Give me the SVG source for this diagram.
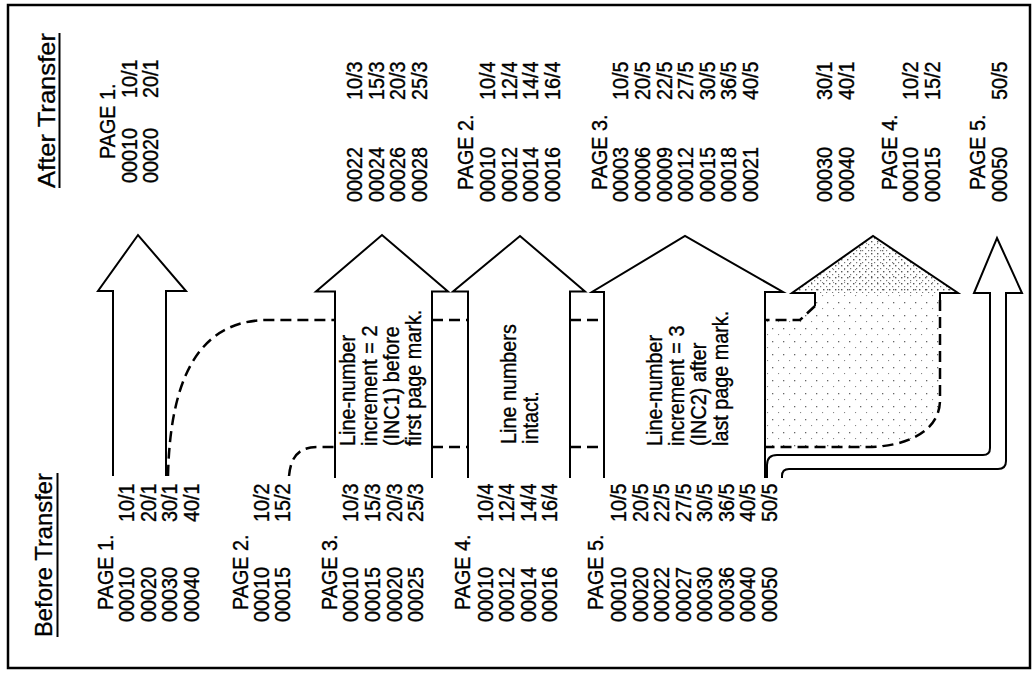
<svg xmlns="http://www.w3.org/2000/svg" width="1034" height="675" viewBox="0 0 1034 675">
<defs>
<style>
.t{font-family:"Liberation Sans",Arial,sans-serif;font-size:22px;fill:#000;stroke:#000;stroke-width:0.35}
.h{font-family:"Liberation Sans",Arial,sans-serif;font-size:24px;fill:#000;stroke:#000;stroke-width:0.3}
.ar{fill:#fff;stroke:#000;stroke-width:2;stroke-linejoin:miter}
.ln{fill:none;stroke:#000;stroke-width:2}
.ds{fill:none;stroke:#000;stroke-width:2.5;stroke-dasharray:11 6}
</style>
<pattern id="stipA" width="6" height="6" patternUnits="userSpaceOnUse">
<rect x="1" y="1" width="1.4" height="1.4" fill="#555"/>
<rect x="4" y="4" width="1.2" height="1.2" fill="#777"/>
</pattern>
<pattern id="stipB" width="11" height="13" patternUnits="userSpaceOnUse">
<rect x="2" y="3" width="1.3" height="1.3" fill="#666"/>
<rect x="8" y="9" width="1.1" height="1.1" fill="#888"/>
</pattern>
</defs>
<rect x="8" y="5" width="1022" height="663" fill="#fff" stroke="#000" stroke-width="2.5"/>

<g id="before-title">
<text class="h" transform="translate(52,637) rotate(-90)" textLength="164" lengthAdjust="spacingAndGlyphs">Before Transfer</text>
<line class="ln" x1="57.5" y1="473" x2="57.5" y2="637"/>
</g>
<g id="after-title">
<text class="h" transform="translate(55,188) rotate(-90)" textLength="155" lengthAdjust="spacingAndGlyphs">After Transfer</text>
<line class="ln" x1="59.5" y1="33" x2="59.5" y2="188"/>
</g>

<g id="before-page1">
<text class="t" transform="translate(113,610) rotate(-90) scale(0.9,1)">PAGE 1.</text>
<text class="t" transform="translate(134,622) rotate(-90) scale(0.9,1)">00010</text>
<text class="t" transform="translate(155.5,622) rotate(-90) scale(0.9,1)">00020</text>
<text class="t" transform="translate(177,622) rotate(-90) scale(0.9,1)">00030</text>
<text class="t" transform="translate(199,622) rotate(-90) scale(0.9,1)">00040</text>
<text class="t" transform="translate(134,522) rotate(-90) scale(0.9,1)">10/1</text>
<text class="t" transform="translate(155.5,522) rotate(-90) scale(0.9,1)">20/1</text>
<text class="t" transform="translate(177,522) rotate(-90) scale(0.9,1)">30/1</text>
<text class="t" transform="translate(199,522) rotate(-90) scale(0.9,1)">40/1</text>
</g>
<g id="before-page2">
<text class="t" transform="translate(248,610) rotate(-90) scale(0.9,1)">PAGE 2.</text>
<text class="t" transform="translate(269,622) rotate(-90) scale(0.9,1)">00010</text>
<text class="t" transform="translate(290,622) rotate(-90) scale(0.9,1)">00015</text>
<text class="t" transform="translate(269,522) rotate(-90) scale(0.9,1)">10/2</text>
<text class="t" transform="translate(290,522) rotate(-90) scale(0.9,1)">15/2</text>
</g>
<g id="before-page3">
<text class="t" transform="translate(337,610) rotate(-90) scale(0.9,1)">PAGE 3.</text>
<text class="t" transform="translate(358,622) rotate(-90) scale(0.9,1)">00010</text>
<text class="t" transform="translate(380,622) rotate(-90) scale(0.9,1)">00015</text>
<text class="t" transform="translate(402,622) rotate(-90) scale(0.9,1)">00020</text>
<text class="t" transform="translate(423,622) rotate(-90) scale(0.9,1)">00025</text>
<text class="t" transform="translate(358,522) rotate(-90) scale(0.9,1)">10/3</text>
<text class="t" transform="translate(380,522) rotate(-90) scale(0.9,1)">15/3</text>
<text class="t" transform="translate(402,522) rotate(-90) scale(0.9,1)">20/3</text>
<text class="t" transform="translate(423,522) rotate(-90) scale(0.9,1)">25/3</text>
</g>
<g id="before-page4">
<text class="t" transform="translate(470,610) rotate(-90) scale(0.9,1)">PAGE 4.</text>
<text class="t" transform="translate(493,622) rotate(-90) scale(0.9,1)">00010</text>
<text class="t" transform="translate(514,622) rotate(-90) scale(0.9,1)">00012</text>
<text class="t" transform="translate(535.5,622) rotate(-90) scale(0.9,1)">00014</text>
<text class="t" transform="translate(557,622) rotate(-90) scale(0.9,1)">00016</text>
<text class="t" transform="translate(493,522) rotate(-90) scale(0.9,1)">10/4</text>
<text class="t" transform="translate(514,522) rotate(-90) scale(0.9,1)">12/4</text>
<text class="t" transform="translate(535.5,522) rotate(-90) scale(0.9,1)">14/4</text>
<text class="t" transform="translate(557,522) rotate(-90) scale(0.9,1)">16/4</text>
</g>
<g id="before-page5">
<text class="t" transform="translate(603,610) rotate(-90) scale(0.9,1)">PAGE 5.</text>
<text class="t" transform="translate(626,622) rotate(-90) scale(0.9,1)">00010</text>
<text class="t" transform="translate(647.5,622) rotate(-90) scale(0.9,1)">00020</text>
<text class="t" transform="translate(669,622) rotate(-90) scale(0.9,1)">00022</text>
<text class="t" transform="translate(690.5,622) rotate(-90) scale(0.9,1)">00027</text>
<text class="t" transform="translate(712,622) rotate(-90) scale(0.9,1)">00030</text>
<text class="t" transform="translate(733.5,622) rotate(-90) scale(0.9,1)">00036</text>
<text class="t" transform="translate(755,622) rotate(-90) scale(0.9,1)">00040</text>
<text class="t" transform="translate(777,622) rotate(-90) scale(0.9,1)">00050</text>
<text class="t" transform="translate(626,522) rotate(-90) scale(0.9,1)">10/5</text>
<text class="t" transform="translate(647.5,522) rotate(-90) scale(0.9,1)">20/5</text>
<text class="t" transform="translate(669,522) rotate(-90) scale(0.9,1)">22/5</text>
<text class="t" transform="translate(690.5,522) rotate(-90) scale(0.9,1)">27/5</text>
<text class="t" transform="translate(712,522) rotate(-90) scale(0.9,1)">30/5</text>
<text class="t" transform="translate(733.5,522) rotate(-90) scale(0.9,1)">36/5</text>
<text class="t" transform="translate(755,522) rotate(-90) scale(0.9,1)">40/5</text>
<text class="t" transform="translate(777,522) rotate(-90) scale(0.9,1)">50/5</text>
</g>

<g id="after-page1">
<text class="t" transform="translate(115,159) rotate(-90) scale(0.9,1)">PAGE 1.</text>
<text class="t" transform="translate(137,183) rotate(-90) scale(0.9,1)">00010</text>
<text class="t" transform="translate(158,183) rotate(-90) scale(0.9,1)">00020</text>
<text class="t" transform="translate(137,98) rotate(-90) scale(0.9,1)">10/1</text>
<text class="t" transform="translate(158,98) rotate(-90) scale(0.9,1)">20/1</text>
</g>
<g id="after-page1-cont">
<text class="t" transform="translate(362,202) rotate(-90) scale(0.9,1)">00022</text>
<text class="t" transform="translate(383.5,202) rotate(-90) scale(0.9,1)">00024</text>
<text class="t" transform="translate(405,202) rotate(-90) scale(0.9,1)">00026</text>
<text class="t" transform="translate(426.5,202) rotate(-90) scale(0.9,1)">00028</text>
<text class="t" transform="translate(362,100) rotate(-90) scale(0.9,1)">10/3</text>
<text class="t" transform="translate(383.5,100) rotate(-90) scale(0.9,1)">15/3</text>
<text class="t" transform="translate(405,100) rotate(-90) scale(0.9,1)">20/3</text>
<text class="t" transform="translate(426.5,100) rotate(-90) scale(0.9,1)">25/3</text>
</g>
<g id="after-page2">
<text class="t" transform="translate(473,190) rotate(-90) scale(0.9,1)">PAGE 2.</text>
<text class="t" transform="translate(495,202) rotate(-90) scale(0.9,1)">00010</text>
<text class="t" transform="translate(516.5,202) rotate(-90) scale(0.9,1)">00012</text>
<text class="t" transform="translate(538,202) rotate(-90) scale(0.9,1)">00014</text>
<text class="t" transform="translate(559.5,202) rotate(-90) scale(0.9,1)">00016</text>
<text class="t" transform="translate(495,100) rotate(-90) scale(0.9,1)">10/4</text>
<text class="t" transform="translate(516.5,100) rotate(-90) scale(0.9,1)">12/4</text>
<text class="t" transform="translate(538,100) rotate(-90) scale(0.9,1)">14/4</text>
<text class="t" transform="translate(559.5,100) rotate(-90) scale(0.9,1)">16/4</text>
</g>
<g id="after-page3">
<text class="t" transform="translate(607,190) rotate(-90) scale(0.9,1)">PAGE 3.</text>
<text class="t" transform="translate(628,202) rotate(-90) scale(0.9,1)">00003</text>
<text class="t" transform="translate(650,202) rotate(-90) scale(0.9,1)">00006</text>
<text class="t" transform="translate(671.5,202) rotate(-90) scale(0.9,1)">00009</text>
<text class="t" transform="translate(693,202) rotate(-90) scale(0.9,1)">00012</text>
<text class="t" transform="translate(714.5,202) rotate(-90) scale(0.9,1)">00015</text>
<text class="t" transform="translate(736,202) rotate(-90) scale(0.9,1)">00018</text>
<text class="t" transform="translate(757.5,202) rotate(-90) scale(0.9,1)">00021</text>
<text class="t" transform="translate(628,100) rotate(-90) scale(0.9,1)">10/5</text>
<text class="t" transform="translate(650,100) rotate(-90) scale(0.9,1)">20/5</text>
<text class="t" transform="translate(671.5,100) rotate(-90) scale(0.9,1)">22/5</text>
<text class="t" transform="translate(693,100) rotate(-90) scale(0.9,1)">27/5</text>
<text class="t" transform="translate(714.5,100) rotate(-90) scale(0.9,1)">30/5</text>
<text class="t" transform="translate(736,100) rotate(-90) scale(0.9,1)">36/5</text>
<text class="t" transform="translate(757.5,100) rotate(-90) scale(0.9,1)">40/5</text>
</g>
<g id="after-page3-cont">
<text class="t" transform="translate(832,202) rotate(-90) scale(0.9,1)">00030</text>
<text class="t" transform="translate(853.5,202) rotate(-90) scale(0.9,1)">00040</text>
<text class="t" transform="translate(832,100) rotate(-90) scale(0.9,1)">30/1</text>
<text class="t" transform="translate(853.5,100) rotate(-90) scale(0.9,1)">40/1</text>
</g>
<g id="after-page4">
<text class="t" transform="translate(897,190) rotate(-90) scale(0.9,1)">PAGE 4.</text>
<text class="t" transform="translate(918,202) rotate(-90) scale(0.9,1)">00010</text>
<text class="t" transform="translate(940,202) rotate(-90) scale(0.9,1)">00015</text>
<text class="t" transform="translate(918,100) rotate(-90) scale(0.9,1)">10/2</text>
<text class="t" transform="translate(940,100) rotate(-90) scale(0.9,1)">15/2</text>
</g>
<g id="after-page5">
<text class="t" transform="translate(985,190) rotate(-90) scale(0.9,1)">PAGE 5.</text>
<text class="t" transform="translate(1007,202) rotate(-90) scale(0.9,1)">00050</text>
<text class="t" transform="translate(1007,100) rotate(-90) scale(0.9,1)">50/5</text>
</g>

<g id="arrow1">
<path class="ar" d="M113,476 L113,291 L98,291 L138,235 L186,291 L166,291 L166,476"/>
</g>
<g id="arrow2">
<path class="ar" d="M335,478 L335,291.5 L316,291.5 L382,235 L448,291.5 L432,291.5 L432,478"/>
<text class="t" transform="translate(355,446) rotate(-90) scale(0.9,1)">Line-number</text>
<text class="t" transform="translate(377,446) rotate(-90) scale(0.9,1)">increment = 2</text>
<text class="t" transform="translate(399,446) rotate(-90) scale(0.9,1)">(INC1) before</text>
<text class="t" transform="translate(421,446) rotate(-90) scale(0.9,1)">first page mark.</text>
</g>
<g id="arrow3">
<path class="ar" d="M468,478 L468,291.5 L453,291.5 L520,236 L585,291.5 L570,291.5 L570,478"/>
<text class="t" transform="translate(516,444) rotate(-90) scale(0.9,1)">Line numbers</text>
<text class="t" transform="translate(538,444) rotate(-90) scale(0.9,1)">intact.</text>
</g>
<g id="arrow4">
<path class="ar" d="M604,478 L604,292 L592,292 L685,236 L783,292 L765,292 L765,478"/>
<text class="t" transform="translate(662,446) rotate(-90) scale(0.9,1)">Line-number</text>
<text class="t" transform="translate(684,446) rotate(-90) scale(0.9,1)">increment = 3</text>
<text class="t" transform="translate(706,446) rotate(-90) scale(0.9,1)">(INC2) after</text>
<text class="t" transform="translate(728,446) rotate(-90) scale(0.9,1)">last page mark.</text>
</g>
<g id="arrow5">
<path d="M792,293 L873,236 L958,293 L940,293 L940,400 C940,432 905,447 867,447 L765,447 L765,320 L800,320 L815,306 L815,293 Z" fill="url(#stipB)"/>
<path d="M792,293 L873,236 L958,293 Z" fill="url(#stipA)"/>
<path class="ln" d="M815,306 L815,293 L792,293 L873,236 L958,293 L940,293 L940,300"/>
<path class="ds" d="M815,306 L800,320 L765,320"/>
<path class="ds" d="M940,300 L940,400 C940,432 905,447 867,447 L765,447"/>
</g>
<g id="arrow6">
<path class="ln" d="M767,478 L767,465 Q767,455 777,455 L983,455 Q990,455 990,448 L990,293 L974,293 L997,238 L1022,293 L1006,293 L1006,461 Q1006,469 998,469 L789,469 Q782,469 782,476 L782,478"/>
</g>

<g id="connectors">
<path class="ds" d="M168,476 C170,385 195,320 268,320 L335,320"/>
<path class="ds" d="M289,476 C291,455 300,447 318,447 L335,447"/>
<path class="ds" d="M432,320 L468,320 M432,447 L468,447"/>
<path class="ds" d="M570,320 L604,320 M570,447 L604,447"/>
</g>
</svg>
